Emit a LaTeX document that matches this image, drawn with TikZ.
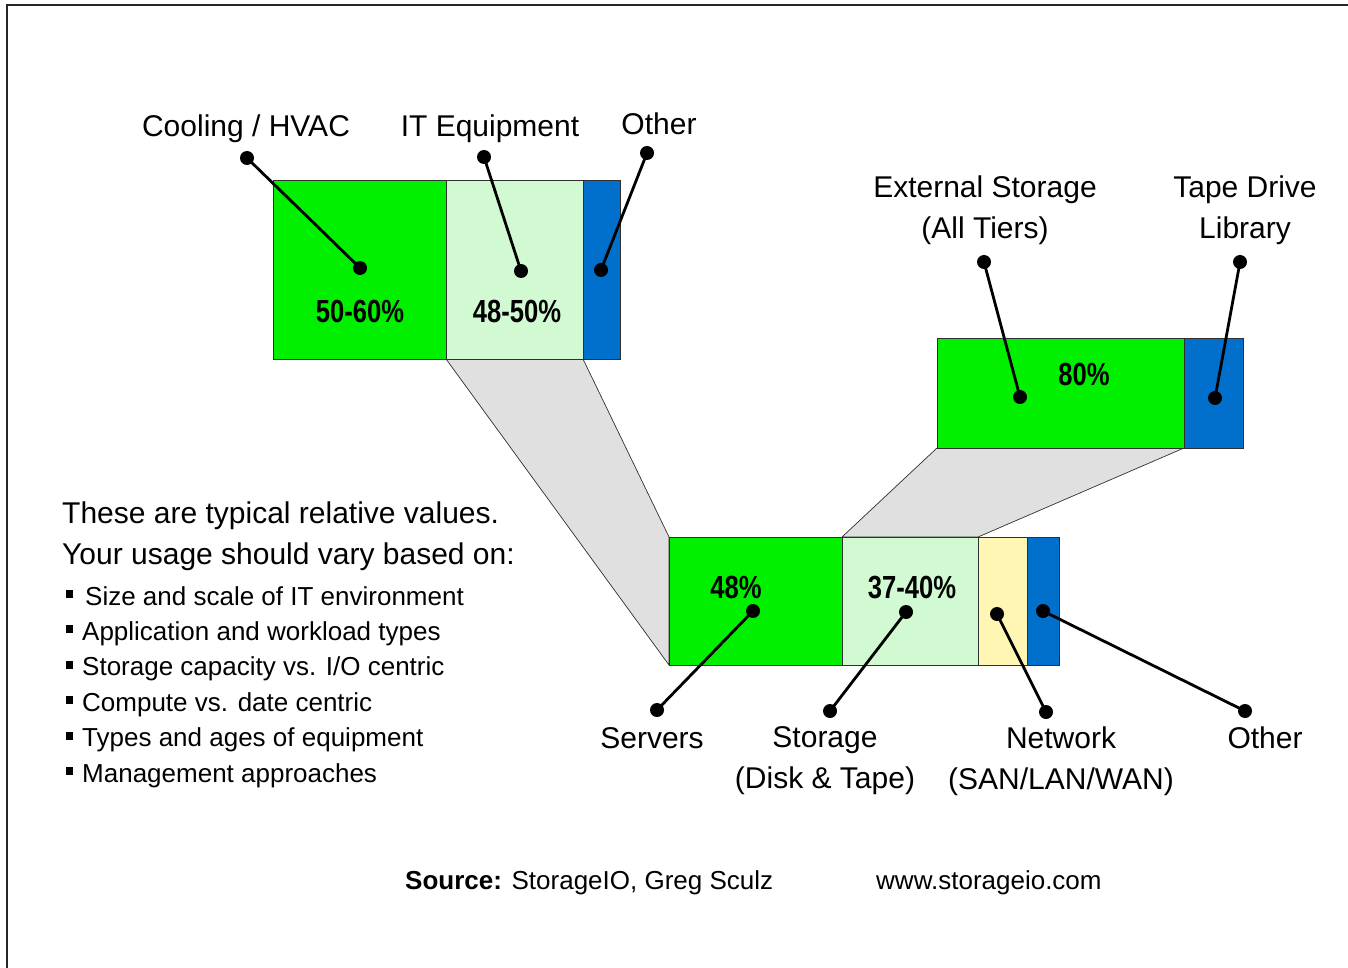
\documentclass[tikz,border=0pt]{standalone}
\usepackage{fontspec}
\setmainfont{Liberation Sans}
\usepackage{graphicx}
\pgfdeclarelayer{background}
\pgfsetlayers{background,main}
\definecolor{barGreen}{HTML}{00F000}
\definecolor{barPale}{HTML}{D2FAD2}
\definecolor{barBlue}{HTML}{0070CC}
\definecolor{barYellow}{HTML}{FFF6B4}
\definecolor{funnelFill}{HTML}{E0E0E0}
\definecolor{edge}{HTML}{303030}
% condensed bold percentage figures
\newcommand{\pcttext}[1]{\scalebox{0.8}[1]{\fontsize{32}{36}\selectfont\bfseries #1}}
\begin{document}
\begin{tikzpicture}[x=1pt,y=-1pt,
  seg/.style={draw=edge, line width=0.9pt, inner sep=0pt, outer sep=0pt, anchor=north west},
  lbl/.style={font=\fontsize{30}{36}\selectfont, inner sep=0pt, anchor=base},
  lbltwo/.style={font=\fontsize{30}{41}\selectfont, inner sep=0pt, anchor=center, align=center},
  pct/.style={inner sep=0pt, anchor=base},
  pinhead/.style={circle, fill=black, inner sep=0pt, minimum size=14pt},
  leader/.style={line width=2.8pt, black},
  funnel/.style={fill=funnelFill, draw=edge, line width=0.7pt, line join=round},
  note/.style={font=\fontsize{30}{36}\selectfont, inner sep=0pt, anchor=base west},
  item/.style={font=\fontsize{26}{30}\selectfont, inner sep=0pt, anchor=base west},
  foot/.style={font=\fontsize{26}{30}\selectfont, inner sep=0pt, anchor=base west},
]
\useasboundingbox (0,0) rectangle (1348,968);

% frame
\draw[line width=2.4pt, black!85] (7,968) -- (7,5) -- (1348,5);

% facility power bar
\node[seg, fill=barGreen, minimum width=173pt, minimum height=179pt] (cool) at (273,180) {};
\node[seg, fill=barPale,  minimum width=137pt, minimum height=179pt] (itq)  at (446,180) {};
\node[seg, fill=barBlue,  minimum width=37pt,  minimum height=179pt] (oth)  at (583,180) {};

% storage breakdown bar
\node[seg, fill=barGreen, minimum width=247pt, minimum height=110pt] (ext)  at (937,338) {};
\node[seg, fill=barBlue,  minimum width=59pt,  minimum height=110pt] (tape) at (1184,338) {};

% IT equipment bar
\node[seg, fill=barGreen,  minimum width=173pt, minimum height=128pt] (srv)  at (669,537) {};
\node[seg, fill=barPale,   minimum width=136pt, minimum height=128pt] (sto)  at (842,537) {};
\node[seg, fill=barYellow, minimum width=49pt,  minimum height=128pt] (net)  at (978,537) {};
\node[seg, fill=barBlue,   minimum width=32pt,  minimum height=128pt] (oth2) at (1027,537) {};

% page background and expansion funnels, behind the bars
\begin{pgfonlayer}{background}
\fill[white] (0,0) rectangle (1348,968);
\draw[funnel] (itq.south west) -- (itq.south east) -- (srv.north west) -- (srv.south west) -- cycle;
\draw[funnel] (ext.south west) -- (ext.south east) -- (sto.north east) -- (sto.north west) -- cycle;
\end{pgfonlayer}

% percentages
\node[pct] (p1) at (360,322) {\pcttext{50-60\%}};
\node[pct] (p2) at (517,322) {\pcttext{48-50\%}};
\node[pct] (p3) at (1084,385) {\pcttext{80\%}};
\node[pct] (p4) at (736,598) {\pcttext{48\%}};
\node[pct] (p5) at (912,598) {\pcttext{37-40\%}};

% category labels
\node[lbl] (lcool) at (246,137) {Cooling / HVAC};
\node[lbl] (litq)  at (490,137) {IT Equipment};
\node[lbl] (loth)  at (659,135) {Other};
\node[lbltwo] (lext)  at (985,210) {External Storage\\(All Tiers)};
\node[lbltwo] (ltape) at (1245,210) {Tape Drive\\Library};
\node[lbl] (lsrv)  at (652,748) {Servers};
\node[lbltwo] (lsto)  at (825,761) {Storage\\(Disk \& Tape)};
\node[lbltwo] (lnet)  at (1061,761) {Network\\(SAN/LAN/WAN)};
\node[lbl] (loth2) at (1265,748) {Other};

% leader lines with pin heads
\node[pinhead] (a1) at (247,158) {};  \node[pinhead] (a2) at (360,268) {};
\node[pinhead] (b1) at (484,157) {};  \node[pinhead] (b2) at (521,271) {};
\node[pinhead] (c1) at (647,153) {};  \node[pinhead] (c2) at (601,270) {};
\node[pinhead] (d1) at (984,262) {};  \node[pinhead] (d2) at (1020,397) {};
\node[pinhead] (e1) at (1240,262) {}; \node[pinhead] (e2) at (1215,398) {};
\node[pinhead] (f1) at (657,710) {};  \node[pinhead] (f2) at (753,611) {};
\node[pinhead] (g1) at (830,711) {};  \node[pinhead] (g2) at (906,612) {};
\node[pinhead] (h1) at (1046,712) {}; \node[pinhead] (h2) at (997,614) {};
\node[pinhead] (i1) at (1245,711) {}; \node[pinhead] (i2) at (1043,611) {};
\draw[leader] (a1.center) -- (a2.center);
\draw[leader] (b1.center) -- (b2.center);
\draw[leader] (c1.center) -- (c2.center);
\draw[leader] (d1.center) -- (d2.center);
\draw[leader] (e1.center) -- (e2.center);
\draw[leader] (f1.center) -- (f2.center);
\draw[leader] (g1.center) -- (g2.center);
\draw[leader] (h1.center) -- (h2.center);
\draw[leader] (i1.center) -- (i2.center);

% notes
\node[note] (n1) at (62,523) {These are typical relative values.};
\node[note] (n2) at (62,564) {Your usage should vary based on:};
\node[item] (m1) at (66,605.0) {\rule[7pt]{7pt}{8pt}\hspace{12pt}Size and scale of IT environment};
\node[item] (m2) at (66,640.4) {\rule[7pt]{7pt}{8pt}\hspace{9pt}Application and workload types};
\node[item] (m3) at (66,675.8) {\rule[7pt]{7pt}{8pt}\hspace{9pt}Storage capacity vs. I/O centric};
\node[item] (m4) at (66,711.2) {\rule[7pt]{7pt}{8pt}\hspace{9pt}Compute vs. date centric};
\node[item] (m5) at (66,746.6) {\rule[7pt]{7pt}{8pt}\hspace{9pt}Types and ages of equipment};
\node[item] (m6) at (66,782.0) {\rule[7pt]{7pt}{8pt}\hspace{9pt}Management approaches};

% footer
\node[foot] (src) at (405,889) {\textbf{Source:} StorageIO, Greg Sculz};
\node[foot] (web) at (876,889) {www.storageio.com};
\end{tikzpicture}
\end{document}
